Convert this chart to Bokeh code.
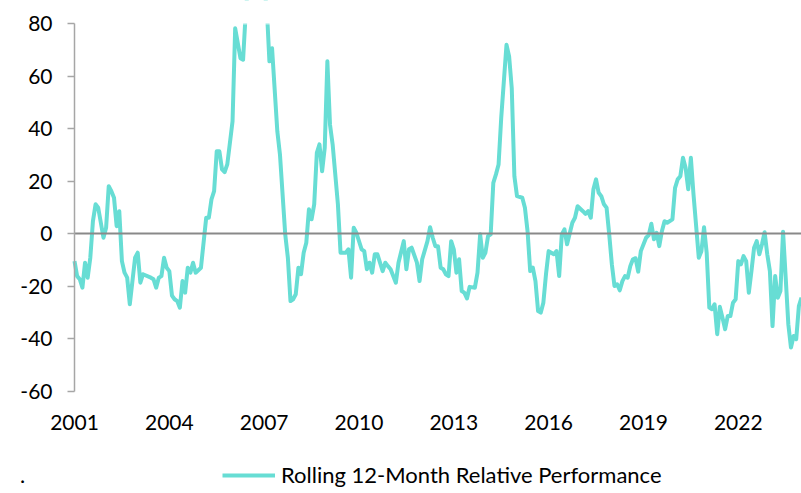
from bokeh.plotting import figure
from bokeh.models import Range1d, FixedTicker, Legend, LegendItem, LinearAxis, BoxAnnotation
from bokeh.embed import file_html
from bokeh.resources import INLINE

# months since Jan 2001 (vertices) and values
months = [0,1,2,3,4,5,6,7,8,9,11,12,13,14,15,16,17,18,19,20,21,23,24,25,26,29,30,31,32,33,34,35,
          36,37,38,39,40,41,42,43,44,45,46,48,50,51,52,53,54,55,56,57,58,60,61,63,64,65,66,67,68,69,70,71,
          72,73,74,75,77,78,80,81,82,83,84,85,86,87,88,89,90,91,92,93,94,95,96,97,98,100,101,103,104,105,106,107,
          109,110,111,112,113,114,115,117,118,119,120,122,123,125,126,127,128,130,131,132,134,135,136,137,138,139,140,141,
          142,143,144,145,146,147,148,149,150,152,153,154,155,156,157,158,159,160,161,162,164,165,166,167,168,170,171,172,
          173,174,175,176,177,178,179,180,181,182,183,184,185,186,187,189,190,191,193,194,195,196,197,198,199,200,201,202,
          203,204,205,206,207,208,209,210,211,212,213,214,215,217,218,219,220,221,222,223,224,225,227,228,229,230,231,232,
          233,234,235,237,238,239,240,241,242,243,244,245,246,247,248,249,250,251,252,253,254,255,256,257,258,259,260,261,
          262,263,264,265,266,267,268,269,270,271,272,273,274,275,276]
values = [-10.4,-16.1,-17.3,-20.5,-11.0,-16.7,-9.1,4.8,11.2,9.9,-1.5,2.3,18.1,16.2,13.7,2.9,8.6,-10.4,-14.8,-16.7,-26.8,-9.1,-7.2,-18.6,-15.4,-16.7,-17.3,-20.5,-16.7,-16.1,-9.1,-12.9,
          -14.2,-23.5,-24.9,-25.6,-28.1,-18.0,-22.4,-12.9,-14.8,-11.0,-14.8,-12.9,6.1,6.1,13.1,16.2,31.4,31.4,24.5,23.5,26.4,42.8,78.2,66.8,66.2,84,96,108,115,104,110,100,
          93,86,65.6,70.6,39.0,30.2,-0.2,-9.1,-25.6,-24.9,-23.0,-12.9,-15.4,-7.2,-3.4,9.3,5.5,11.2,30.8,34.0,23.8,32.7,65.6,41.5,34.0,11.2,-7.2,-7.2,-5.9,-16.7,2.3,0.4,
          -5.9,-6.6,-13.5,-11.0,-14.8,-7.8,-7.8,-14.2,-11.0,-12.3,-13.5,-18.6,-11.0,-2.8,-13.5,-5.9,-5.3,-11.0,-18.0,-9.7,-2.8,2.5,-1.5,-4.7,-4.7,-12.9,-13.5,-15.4,
          -16.1,-2.8,-5.9,-14.8,-9.7,-21.8,-22.4,-24.6,-20.2,-20.5,-14.8,-0.2,-9.1,-7.2,-0.9,-0.2,19.4,22.6,26.4,44.1,71.9,67.5,55.4,21.9,14.3,13.7,9.9,1.0,
          -14.2,-12.9,-18.0,-29.4,-30.0,-26.2,-15.4,-6.6,-7.2,-7.8,-6.6,-16.1,-0.2,1.7,-4.0,4.2,6.1,10.5,8.6,7.6,8.6,6.1,16.9,20.7,15.6,14.3,11.2,9.9,
          -0.2,-11.6,-19.9,-19.2,-21.5,-18.0,-16.1,-16.7,-12.3,-9.7,-9.3,-14.4,-6.6,-1.5,-0.5,3.8,-2.1,0.4,-4.7,1.0,4.8,4.2,5.5,17.5,20.7,21.9,28.9,25.1,
          16.9,28.9,15.0,-9.1,-6.6,2.5,-7.2,-28.1,-28.7,-26.8,-38.2,-27.8,-31.9,-36.3,-31.3,-31.3,-26.2,-24.9,-10.4,-11.6,-8.5,-10.4,-22.4,-14.2,-5.3,-2.8,-7.8,-4.0,
          0.6,-7.8,-14.2,-35.1,-16.1,-24.3,-21.8,0.8,-16.7,-34.4,-43.3,-38.9,-40.1,-27.5,-24.3]

x_tick_positions = [0, 36, 72, 108, 144, 180, 216, 252]
x_tick_labels = ["2001", "2004", "2007", "2010", "2013", "2016", "2019", "2022"]
y_ticks = [-60, -40, -20, 0, 20, 40, 60, 80]
y_tick_labels = ["-60", "-40", "-20", "0", "20", "40", "60", "80"]
y_axis_min, y_axis_max = -60, 80
x_axis_min, x_axis_max = 0, 276
series_name = "Rolling 12-Month Relative Performance"
blank_series_name = "."

FONT = "Lato"
FS = "21px"
LINE_COLOR = "#67DDD4"

# The frame fills the whole canvas; the visible plot area (months 0..276, values -60..80)
# sits at 74px from the left and 23px from the top, with axes fixed at its edges.
PX_PER_MONTH = 727 / (x_axis_max - x_axis_min)
PX_PER_UNIT = 368 / (y_axis_max - y_axis_min)
x_start = x_axis_min - 74 / PX_PER_MONTH
x_end = x_axis_max
y_end = y_axis_max + 23 / PX_PER_UNIT
y_start = y_axis_max - (493 - 23) / PX_PER_UNIT

p = figure(frame_width=801, frame_height=493, min_border=0,
           x_range=Range1d(x_start, x_end), y_range=Range1d(y_start, y_end),
           x_axis_type=None, y_axis_type=None,
           output_backend="svg", toolbar_location=None)
p.background_fill_color = "white"
p.border_fill_color = "white"
p.outline_line_color = None

r = p.line(months, values, line_color=LINE_COLOR, line_width=4, line_join="round")
r_blank = p.line([], [], line_alpha=0)

# the value axis stops at 80: hide what lies above it, as the original plot area does
p.add_layout(BoxAnnotation(left=x_axis_min + 1, bottom=y_axis_max, fill_color="white",
                           fill_alpha=1, line_color="white", line_width=3))

# value axis at month 0
ya = LinearAxis(fixed_location=x_axis_min, bounds=(y_axis_min, y_axis_max),
                ticker=FixedTicker(ticks=y_ticks))
ya.major_label_overrides = {t: lab for t, lab in zip(y_ticks, y_tick_labels)}
ya.axis_line_color = "#A6A6A6"
ya.axis_line_width = 1.5
ya.major_tick_line_color = "#A6A6A6"
ya.major_tick_line_width = 1.5
ya.major_tick_out = 7
ya.major_tick_in = 0
ya.minor_tick_line_color = None
ya.major_label_standoff = 15
ya.major_label_text_font = FONT
ya.major_label_text_font_size = FS
ya.major_label_text_color = "#000000"
p.add_layout(ya, "left")

# category axis line crossing at 0
x0 = LinearAxis(fixed_location=0, bounds=(x_axis_min, x_axis_max), ticker=FixedTicker(ticks=[]))
x0.axis_line_color = "#898989"
x0.axis_line_width = 2
x0.major_tick_line_color = None
x0.minor_tick_line_color = None
x0.major_label_text_font_size = "0px"
p.add_layout(x0, "below")

# date labels at the bottom of the plot area
xa = LinearAxis(fixed_location=y_axis_min, ticker=FixedTicker(ticks=x_tick_positions))
xa.major_label_overrides = {pos: lab for pos, lab in zip(x_tick_positions, x_tick_labels)}
xa.axis_line_color = None
xa.major_tick_line_color = None
xa.minor_tick_line_color = None
xa.major_tick_out = 0
xa.major_tick_in = 0
xa.major_label_standoff = 23
xa.major_label_text_font = FONT
xa.major_label_text_font_size = FS
xa.major_label_text_color = "#000000"
p.add_layout(xa, "below")

legend = Legend(items=[LegendItem(label=blank_series_name, renderers=[r_blank]),
                       LegendItem(label=series_name, renderers=[r])],
                location=(-39, 5), orientation="horizontal",
                glyph_width=53, glyph_height=26, label_height=26, label_width=20,
                label_standoff=6, padding=0, margin=0, spacing=182,
                border_line_color=None, background_fill_alpha=0,
                label_text_font=FONT, label_text_font_size="22px", label_text_color="#000000")
p.add_layout(legend, "center")

open("out.html", "w").write(file_html(p, INLINE))
